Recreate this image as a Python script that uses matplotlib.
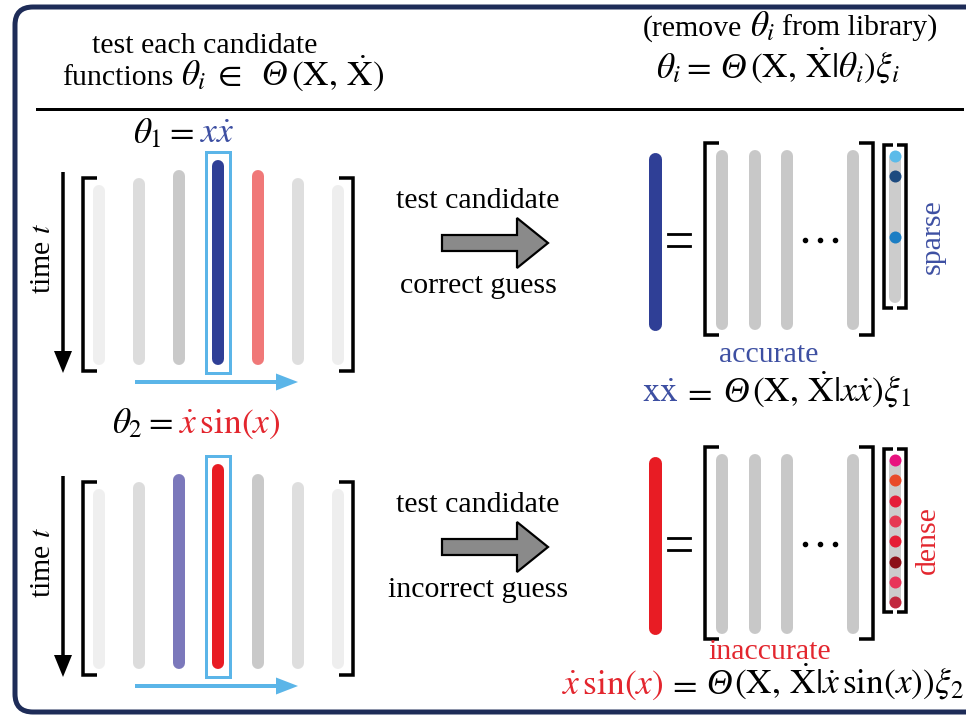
import matplotlib
matplotlib.use('Agg')
import matplotlib.pyplot as plt
from matplotlib.patches import FancyBboxPatch, Rectangle, Polygon

plt.rcParams['font.family'] = ['Liberation Serif', 'DejaVu Serif']
plt.rcParams['mathtext.fontset'] = 'stix'

FS = 21.5   # plain text
FM = 25.5   # formulas
BLUE = '#3d4fa2'
RED = '#e3262e'
SKY = '#5bb5e8'
NAVY = '#1e2c58'

# candidate columns of the library (left), one panel per guess
bar_colors_correct = ['#efefef', '#dcdcdc', '#c9c9c9', '#2f3f96', '#f07878', '#dedede', '#eeeeee']
bar_colors_wrong = ['#efefef', '#dcdcdc', '#7b78bb', '#e81c24', '#c9c9c9', '#dedede', '#eeeeee']
bar_heights = [180, 187, 195, 205, 195, 187, 180]     # column lengths (px)
tested_column = 3

# coefficient vectors xi (None = zero entry)
xi_sparse = ['#5cbbe9', '#1d4a7f', None, None, '#1c7ec4', None, None, None]
xi_dense = ['#e8137f', '#e84a2a', '#e51d3a', '#e63953', '#e51e36', '#8c1018', '#e8355a', '#c2283e']

fig = plt.figure(figsize=(9.66, 7.18), dpi=100)
ax = fig.add_axes([0, 0, 1, 1])
ax.set_xlim(0, 966)
ax.set_ylim(718, 0)
ax.axis('off')

PT = 0.72  # px -> pt


def rich(x, y, pieces, ha='left'):
    '''Draw text pieces side by side on one baseline'''
    r = fig.canvas.get_renderer()
    texts = []
    cx = x
    for p in pieces:
        s, c = p[0], p[1]
        style = p[2] if len(p) > 2 else 'normal'
        gap = p[3] if len(p) > 3 else 0
        fs = FM if (s.startswith('$') or s == 'Θ') else FS
        t = ax.text(cx, y, s, color=c, fontsize=fs, fontstyle=style,
                    va='baseline', ha='left')
        texts.append(t)
        cx += t.get_window_extent(r).width + gap
    if ha == 'center':
        shift = (cx - x) / 2
        for t in texts:
            t.set_x(t.get_position()[0] - shift)


def bar(x, y0, y1, color, w=12):
    ax.plot([x, x], [y0 + w / 2, y1 - w / 2], color=color, lw=w * PT,
            solid_capstyle='round')


def bracket(x, y0, y1, side, s=14, lw=3.5):
    ax.plot([x + side * s, x, x, x + side * s], [y0, y0, y1, y1], color='k',
            lw=lw * PT, solid_joinstyle='miter', solid_capstyle='butt')


# frame
ax.add_patch(FancyBboxPatch((15, 7), 1000, 705, boxstyle='round,pad=0,rounding_size=18',
                            fc='white', ec=NAVY, lw=5 * PT))

# header
rich(205, 53, [('test each candidate', 'k')], ha='center')
rich(62, 85, [('functions', 'k', 'normal', 8), (r'$\theta_i$', 'k', 'normal', 5),
              (r'$\in$', 'k', 'normal', 20), ('Θ', 'k', 'italic', 4),
              (r'$(\mathrm{X},\,\dot{\mathrm{X}})$', 'k')])
rich(790, 36, [('(remove', 'k', 'normal', 8), (r'$\theta_i$', 'k', 'normal', 7),
               ('from library)', 'k')], ha='center')
rich(778, 78, [(r'$\theta_i =$', 'k', 'normal', 9), ('Θ', 'k', 'italic', 4),
               (r'$(\mathrm{X},\,\dot{\mathrm{X}}|\theta_i)\xi_i$', 'k')], ha='center')
ax.plot([37, 962], [109, 109], color='k', lw=3 * PT)

bar_x = [99 + 39.8 * i for i in range(7)]

for k, (dy, colors, xi) in enumerate([(0, bar_colors_correct, xi_sparse),
                                      (304, bar_colors_wrong, xi_dense)]):
    # library of candidate columns
    for i, (x, c) in enumerate(zip(bar_x, colors)):
        bar(x, 365 + dy - bar_heights[i], 365 + dy, c)
    xt = bar_x[tested_column]
    ax.add_patch(Rectangle((xt - 12, 152 + dy), 24, 221, fill=False, ec=SKY, lw=3 * PT))
    bracket(83, 178 + dy, 371 + dy, 1)
    bracket(353, 178 + dy, 371 + dy, -1)
    ax.arrow(63, 172 + dy, 0, 201, width=3.5, head_width=18, head_length=22,
             length_includes_head=True, fc='k', ec='none')
    ax.text(43, 258 + dy, r'time $t$', fontsize=FS, rotation=90, ha='center', va='center')
    ax.arrow(135, 382 + dy, 163, 0, width=4, head_width=17, head_length=22,
             length_includes_head=True, fc=SKY, ec='none')

    # block arrow
    ax.add_patch(Polygon([(442, 235 + dy), (517, 235 + dy), (517, 218 + dy), (548, 243 + dy),
                          (517, 268 + dy), (517, 251 + dy), (442, 251 + dy)],
                         closed=True, fc='#8a8a8a', ec='k', lw=2.2 * PT, joinstyle='miter'))
    rich(478, 208 + dy, [('test candidate', 'k')], ha='center')
    rich(478, 293 + dy, [(['correct guess', 'incorrect guess'][k], 'k')], ha='center')

    # regression: theta = Theta xi
    bar(655, 152 + dy, 330 + dy, colors[tested_column], w=13)
    for yy in (234, 246):
        ax.plot([668, 690], [yy + dy, yy + dy], color='k', lw=2.8 * PT)
    bracket(705, 143 + dy, 335 + dy, 1)
    bracket(873, 143 + dy, 335 + dy, -1)
    for x in (722, 755, 787, 853):
        bar(x, 150 + dy, 330 + dy, '#c8c8c8')
    ax.plot([805, 820, 835], [240 + dy] * 3, 'o', color='k', ms=3.2 * PT * 1.3)
    bracket(884, 145 + dy, 308 + dy, 1, s=9)
    bracket(906, 145 + dy, 308 + dy, -1, s=9)
    bar(895, 153 + dy, 303 + dy, '#cccccc')
    for j, c in enumerate(xi):
        if c is not None:
            ax.plot(895, 156 + dy + 20.3 * j, 'o', color=c, ms=12 * PT, mec='none')

# labels and formulas, panel 1
rich(133, 143, [(r'$\theta_1 =$', 'k', 'normal', 6), (r'$x\dot{x}$', BLUE)])
ax.text(933, 237, 'sparse', color=BLUE, fontsize=FS, rotation=90, ha='center', va='center')
rich(769, 362, [('accurate', BLUE)], ha='center')
rich(642, 402, [(r'$\mathrm{x}\dot{\mathrm{x}}$', BLUE, 'normal', 3), (r'$=$', 'k', 'normal', 12),
                ('Θ', 'k', 'italic', 3),
                (r'$(\mathrm{X},\,\dot{\mathrm{X}}|x\dot{x})\xi_1$', 'k')])

# panel 2
rich(112, 433, [(r'$\theta_2 =$', 'k', 'normal', 6), (r'$\dot{x}\,\sin(x)$', RED)])
ax.text(928, 540, 'dense', color=RED, fontsize=FS, rotation=90, ha='center', va='center')
rich(770, 659, [('inaccurate', RED)], ha='center')
rich(562, 694, [(r'$\dot{x}\,\sin(x)$', RED, 'normal', 3), (r'$=$', 'k', 'normal', 10),
                ('Θ', 'k', 'italic', 2),
                (r'$(\mathrm{X},\,\dot{\mathrm{X}}|\dot{x}\,\sin(x))\xi_2$', 'k')])

fig.savefig('out.png', dpi=100)
